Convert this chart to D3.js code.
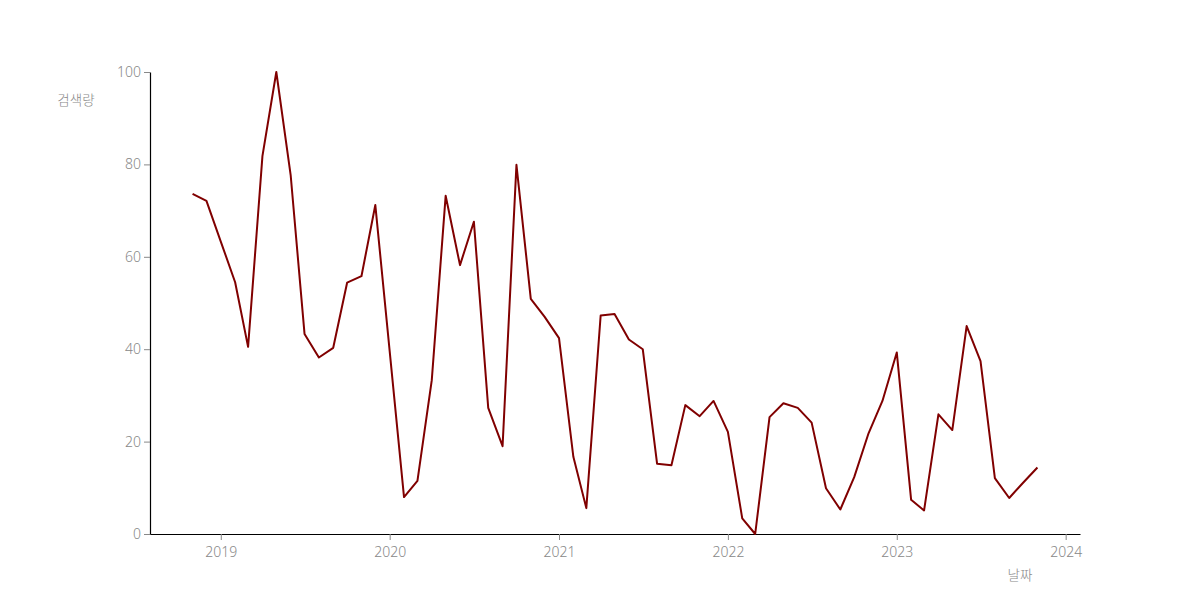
<!DOCTYPE html>
<html>
<head>
<meta charset="utf-8">
<script src="https://cdn.jsdelivr.net/npm/d3@7"></script>
<style>
  html, body { margin: 0; padding: 0; background: #fff; }
  svg text { font-family: "Noto Sans", "Noto Sans CJK KR", sans-serif; font-weight: 300; }
  svg text.kr { font-family: "Noto Sans CJK KR", sans-serif; }
</style>
</head>
<body>
<svg id="chart" width="1200" height="600"></svg>
<script>
const months = [
  "2018-11","2018-12",
  "2019-01","2019-02","2019-03","2019-04","2019-05","2019-06","2019-07","2019-08","2019-09","2019-10","2019-11","2019-12",
  "2020-01","2020-02","2020-03","2020-04","2020-05","2020-06","2020-07","2020-08","2020-09","2020-10","2020-11","2020-12",
  "2021-01","2021-02","2021-03","2021-04","2021-05","2021-06","2021-07","2021-08","2021-09","2021-10","2021-11","2021-12",
  "2022-01","2022-02","2022-03","2022-04","2022-05","2022-06","2022-07","2022-08","2022-09","2022-10","2022-11","2022-12",
  "2023-01","2023-02","2023-03","2023-04","2023-05","2023-06","2023-07","2023-08","2023-09","2023-10","2023-11"
];
const searchVolume = [
  73.6, 72.1,
  63.3, 54.5, 40.5, 81.8, 100, 77.7, 43.3, 38.2, 40.3, 54.4, 55.8, 71.2,
  39.6, 8.0, 11.5, 33.3, 73.2, 58.2, 67.6, 27.3, 19.0, 79.9, 50.9, 47.0,
  42.4, 16.7, 5.6, 47.3, 47.6, 42.1, 40.0, 15.2, 14.9, 27.9, 25.5, 28.8,
  22.1, 3.4, 0, 25.3, 28.3, 27.3, 24.1, 9.9, 5.3, 12.3, 21.8, 28.8,
  39.3, 7.4, 5.1, 25.9, 22.5, 45.0, 37.4, 12.1, 7.8, 11.1, 14.4
];
const yTicks = [0, 20, 40, 60, 80, 100];
const xTickYears = [2019, 2020, 2021, 2022, 2023, 2024];
const yLabel = "검색량";
const xLabel = "날짜";

const parse = d3.timeParse("%Y-%m");
const data = months.map((m, i) => ({ date: parse(m), value: searchVolume[i] }));

const margin = { left: 150, right: 120, top: 72, bottom: 66 };
const W = 1200, H = 600;
const svg = d3.select("#chart");

const x = d3.scaleTime()
  .domain([d3.timeMonth.offset(data[0].date, -3), d3.timeMonth.offset(data[data.length - 1].date, 3)])
  .range([margin.left, W - margin.right]);
const y = d3.scaleLinear().domain([0, 100]).range([H - margin.bottom, margin.top]);

const xAxis = svg.append("g")
  .attr("transform", `translate(0,${H - margin.bottom})`)
  .call(d3.axisBottom(x).tickValues(xTickYears.map(yr => new Date(yr, 0, 1))).tickFormat(d3.timeFormat("%Y")).tickSizeOuter(0));
const yAxis = svg.append("g")
  .attr("transform", `translate(${margin.left},0)`)
  .call(d3.axisLeft(y).tickValues(yTicks).tickSizeOuter(0));

[xAxis, yAxis].forEach(g => {
  g.select(".domain").attr("stroke", "#000").attr("stroke-width", 1.2);
  g.selectAll(".tick line").attr("stroke", "#888");
  g.selectAll(".tick text").attr("fill", "#888")
    .style("font-family", "'Noto Sans', sans-serif").style("font-weight", "300").style("font-size", "14px");
});
xAxis.selectAll(".tick text").attr("dy", "1.0em");

svg.append("path")
  .datum(data)
  .attr("fill", "none")
  .attr("stroke", "#800000")
  .attr("stroke-width", 2)
  .attr("stroke-linejoin", "round")
  .attr("d", d3.line().x(d => x(d.date)).y(d => y(d.value)));

svg.append("text")
  .attr("class", "kr")
  .attr("x", 76).attr("y", 105)
  .attr("text-anchor", "middle")
  .attr("fill", "#888")
  .style("font-size", "13.5px")
  .text(yLabel);

svg.append("text")
  .attr("class", "kr")
  .attr("x", 1020).attr("y", 580)
  .attr("text-anchor", "middle")
  .attr("fill", "#888")
  .style("font-size", "13.5px")
  .text(xLabel);
</script>
</body>
</html>
